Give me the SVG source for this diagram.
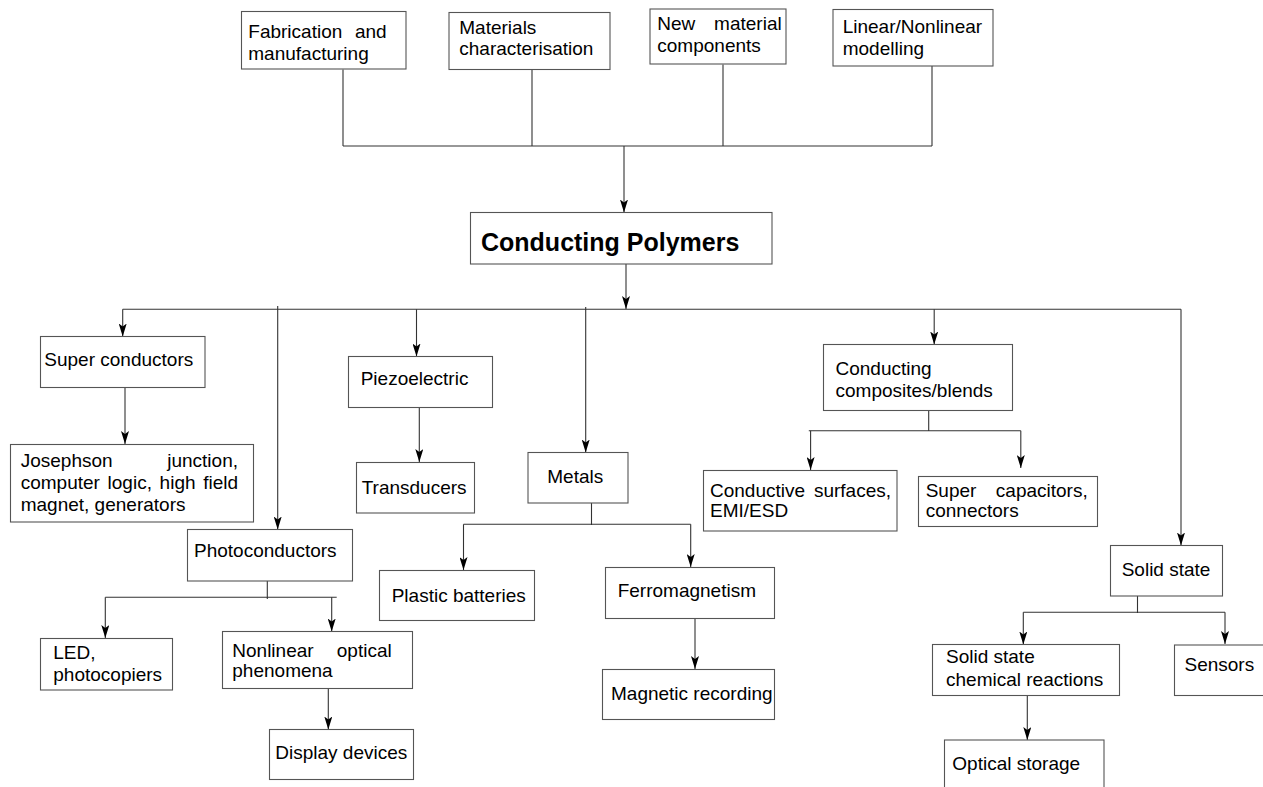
<svg xmlns="http://www.w3.org/2000/svg" width="1263" height="787" viewBox="0 0 1263 787">
<style>
.box{fill:#fff;stroke:#555;stroke-width:1.1}
.t{font-family:"Liberation Sans",Arial,sans-serif;font-size:19px;fill:#000}
.b{font-family:"Liberation Sans",Arial,sans-serif;font-size:25px;font-weight:bold;fill:#000}
.e{text-anchor:end}
.c{fill:none;stroke:#333;stroke-width:1.1}
.a{marker-end:url(#arr)}
</style>
<defs>
<marker id="arr" markerUnits="userSpaceOnUse" viewBox="0 0 13 8" markerWidth="13" markerHeight="8" refX="13" refY="4" orient="auto">
<path d="M0,0 L13,4 L0,8 L3,4 z" fill="#000"/>
</marker>
</defs>
<rect width="1263" height="787" fill="#fff"/>
<g id="connectors">
<path class="c" d="M343,69.5 V146 M532,70 V146 M723,64.5 V146 M932,66 V146 M343,146 H932"/>
<path class="c a" d="M624,146 V212.5"/>
<path class="c a" d="M626,264 V309"/>
<path class="c" d="M122.7,309.3 H1181"/>
<path class="c a" d="M122.7,309.3 V336.5"/>
<path class="c a" d="M277.7,306 V529.5"/>
<path class="c a" d="M416.5,309.3 V356.5"/>
<path class="c a" d="M585.7,307 V452.5"/>
<path class="c a" d="M934.2,309.3 V344.5"/>
<path class="c a" d="M1181,309.3 V545.5"/>
<path class="c a" d="M125,388 V444"/>
<path class="c a" d="M419.3,407.5 V462"/>
<path class="c" d="M591.5,503 V525 M463.5,524.3 H690.7"/>
<path class="c a" d="M463.5,524.3 V570"/>
<path class="c a" d="M690.7,524.3 V567"/>
<path class="c a" d="M695,618.5 V669"/>
<path class="c" d="M267.3,581 V599 M105.3,597.3 H336.7"/>
<path class="c a" d="M105.3,597.3 V638"/>
<path class="c a" d="M331.7,597.3 V631.5"/>
<path class="c a" d="M328.3,688.5 V729.5"/>
<path class="c" d="M928.7,410.7 V431 M808.8,430.7 H1020.8"/>
<path class="c a" d="M810.6,430.7 V470"/>
<path class="c a" d="M1020.8,430.7 V468"/>
<path class="c" d="M1137.5,596 V613 M1023.3,612.3 H1225"/>
<path class="c a" d="M1023.3,612.3 V644.5"/>
<path class="c a" d="M1225,612.3 V644"/>
<path class="c a" d="M1027.3,695.5 V740"/>
</g>
<g id="fabrication"><rect class="box" x="241.5" y="11.5" width="164.5" height="57.5"/><text class="t" x="248.3" y="37.5">Fabrication</text><text class="t e" x="386.7" y="37.5">and</text><text class="t" x="248.3" y="60">manufacturing</text></g>
<g id="materials"><rect class="box" x="449" y="12.5" width="161" height="57"/><text class="t" x="459.3" y="33.5">Materials</text><text class="t" x="459.3" y="55">characterisation</text></g>
<g id="newmaterial"><rect class="box" x="650" y="9" width="136" height="55"/><text class="t" x="657.3" y="29.5">New</text><text class="t e" x="781.7" y="29.5">material</text><text class="t" x="657.3" y="51.5">components</text></g>
<g id="modelling"><rect class="box" x="833" y="9.5" width="160" height="56.5"/><text class="t" x="842.7" y="33">Linear/Nonlinear</text><text class="t" x="842.7" y="55">modelling</text></g>
<g id="conducting-polymers"><rect class="box" x="470.5" y="212.5" width="301.5" height="51.5"/><text class="b" x="481" y="251">Conducting Polymers</text></g>
<g id="superconductors"><rect class="box" x="40.5" y="336.5" width="164.5" height="51"/><text class="t" x="44.3" y="366">Super conductors</text></g>
<g id="josephson"><rect class="box" x="10.5" y="444.5" width="243" height="77.5"/><text class="t" x="20.7" y="466.7">Josephson</text><text class="t e" x="238" y="466.7">junction,</text><text class="t" x="20.7" y="489" word-spacing="2.4">computer logic, high field</text><text class="t" x="20.7" y="510.7">magnet, generators</text></g>
<g id="photoconductors"><rect class="box" x="187.5" y="529.5" width="165" height="51.5"/><text class="t" x="194" y="556.7">Photoconductors</text></g>
<g id="led"><rect class="box" x="40.5" y="638.5" width="132" height="51.5"/><text class="t" x="53.3" y="659.3">LED,</text><text class="t" x="53.3" y="681">photocopiers</text></g>
<g id="nonlinear"><rect class="box" x="222.5" y="631.5" width="190" height="57"/><text class="t" x="232.3" y="656.7">Nonlinear</text><text class="t e" x="391.7" y="656.7">optical</text><text class="t" x="232.3" y="677.3">phenomena</text></g>
<g id="display"><rect class="box" x="269.5" y="729.5" width="144" height="50"/><text class="t" x="275.3" y="759.3">Display devices</text></g>
<g id="piezoelectric"><rect class="box" x="348.5" y="356.5" width="144" height="51"/><text class="t" x="360.7" y="385">Piezoelectric</text></g>
<g id="transducers"><rect class="box" x="356.5" y="462.5" width="118" height="50.5"/><text class="t" x="361.7" y="494">Transducers</text></g>
<g id="metals"><rect class="box" x="528" y="452.5" width="100" height="50.5"/><text class="t" x="547.3" y="482.7">Metals</text></g>
<g id="plastic"><rect class="box" x="379.5" y="570.5" width="155" height="50"/><text class="t" x="391.7" y="601.7">Plastic batteries</text></g>
<g id="ferromagnetism"><rect class="box" x="605.5" y="567.5" width="169" height="51"/><text class="t" x="617.7" y="596.7">Ferromagnetism</text></g>
<g id="magnetic"><rect class="box" x="602.5" y="669.5" width="172" height="50"/><text class="t" x="611" y="700">Magnetic recording</text></g>
<g id="composites"><rect class="box" x="823.5" y="344.5" width="189" height="66"/><text class="t" x="835.5" y="375">Conducting</text><text class="t" x="835.5" y="396.7">composites/blends</text></g>
<g id="conductive"><rect class="box" x="703.5" y="470.5" width="193.5" height="60.5"/><text class="t" x="710" y="496.7">Conductive</text><text class="t e" x="891" y="496.7">surfaces,</text><text class="t" x="710" y="517.3">EMI/ESD</text></g>
<g id="supercap"><rect class="box" x="918.5" y="476.5" width="179" height="50"/><text class="t" x="925.7" y="496.7">Super</text><text class="t e" x="1087.7" y="496.7">capacitors,</text><text class="t" x="925.7" y="517.3">connectors</text></g>
<g id="solidstate"><rect class="box" x="1110.5" y="545.5" width="112" height="50.5"/><text class="t" x="1121.7" y="576">Solid state</text></g>
<g id="sscr"><rect class="box" x="932.5" y="644.5" width="187" height="51"/><text class="t" x="946" y="663">Solid state</text><text class="t" x="946" y="685.5">chemical reactions</text></g>
<g id="sensors"><rect class="box" x="1174.5" y="645" width="100" height="50.5"/><text class="t" x="1184.5" y="671">Sensors</text></g>
<g id="optical"><rect class="box" x="944.5" y="740" width="159.5" height="60"/><text class="t" x="952.3" y="770">Optical storage</text></g>
</svg>
